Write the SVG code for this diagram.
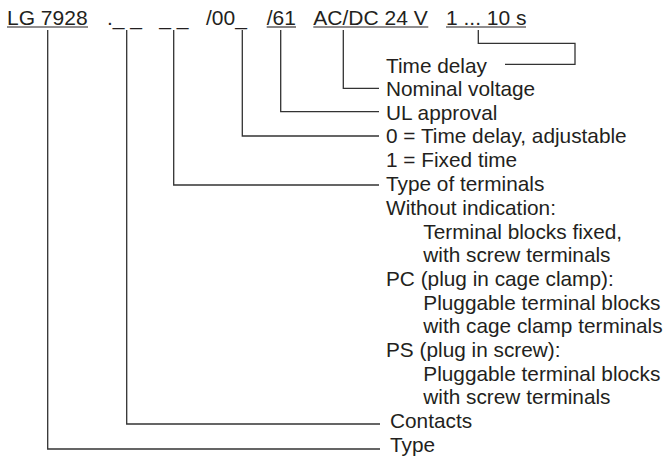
<svg xmlns="http://www.w3.org/2000/svg" width="672" height="464" viewBox="0 0 672 464">
<style>
text{font-family:"Liberation Sans",Arial,sans-serif;fill:#231f20}
.h{font-size:21px}
.l{font-size:20.8px}
.u{stroke:#231f20;stroke-width:1.1;fill:none}
.c{stroke:#333;stroke-width:1.3;fill:none}
</style>
<rect width="672" height="464" fill="#fff"/>
<g id="header">
<g id="type-code"><text class="h" x="7" y="24.5">LG 7928</text><line class="u" x1="7" y1="27" x2="88" y2="27"/></g>
<g id="contacts-code"><text class="h" x="107" y="24.5">._ _</text></g>
<g id="terminals-code"><text class="h" x="159.3" y="24.5">_ _</text></g>
<g id="delay-code"><text class="h" x="206" y="24.5">/00_</text></g>
<g id="ul-code"><text class="h" x="266.7" y="24.5">/61</text><line class="u" x1="266.7" y1="27" x2="296" y2="27"/></g>
<g id="voltage-code"><text class="h" x="313.3" y="24.5">AC/DC 24 V</text><line class="u" x1="313.3" y1="27" x2="428.3" y2="27"/></g>
<g id="time-code"><text class="h" x="446" y="24.5">1 ... 10 s</text><line class="u" x1="446" y1="27" x2="526" y2="27"/></g>
</g>
<g id="connectors">
<path class="c" d="M478.3,30 V43.3 H575 V64.3 H505"/>
<path class="c" d="M343.3,30 V88.3 H379"/>
<path class="c" d="M280.7,30 V111.7 H379"/>
<path class="c" d="M242.3,30 V136 H379"/>
<path class="c" d="M173.7,30 V185 H379"/>
<path class="c" d="M126.7,30 V424 H380"/>
<path class="c" d="M47.7,30 V449 H380"/>
</g>
<g id="label-time-delay"><text class="l" x="386" y="72.5">Time delay</text></g>
<g id="label-nominal-voltage"><text class="l" x="386" y="96">Nominal voltage</text></g>
<g id="label-ul"><text class="l" x="386" y="119.5">UL approval</text></g>
<g id="label-delay-kind">
<text class="l" x="386" y="143">0 = Time delay, adjustable</text>
<text class="l" x="386" y="166.5">1 = Fixed time</text>
</g>
<g id="label-terminals">
<text class="l" x="386" y="190.5">Type of terminals</text>
<text class="l" x="386" y="214.5">Without indication:</text>
<text class="l" x="423.3" y="238.5">Terminal blocks fixed,</text>
<text class="l" x="423.3" y="262">with screw terminals</text>
<text class="l" x="386" y="285.5">PC (plug in cage clamp):</text>
<text class="l" x="423.3" y="309.5">Pluggable terminal blocks</text>
<text class="l" x="423.3" y="333">with cage clamp terminals</text>
<text class="l" x="386" y="357">PS (plug in screw):</text>
<text class="l" x="423.3" y="380.5">Pluggable terminal blocks</text>
<text class="l" x="423.3" y="404">with screw terminals</text>
</g>
<g id="label-contacts"><text class="l" x="390" y="428">Contacts</text></g>
<g id="label-type"><text class="l" x="390" y="451.5">Type</text></g>
</svg>
